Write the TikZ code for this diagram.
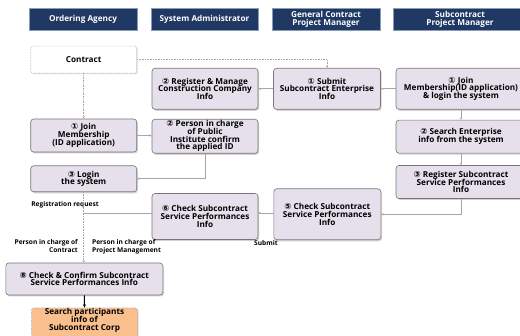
\documentclass[tikz,border=0pt]{standalone}
\usepackage{fontspec}
\setmainfont{Open Sans}
\newfontfamily\circfont{DejaVu Sans}
\usetikzlibrary{arrows.meta,shadows,calc}
\definecolor{boxfill}{HTML}{E6E0EC}
\definecolor{boxline}{HTML}{767676}
\definecolor{hdrfill}{HTML}{203864}
\definecolor{hdrline}{HTML}{8A9BB5}
\definecolor{conn}{HTML}{A6A6A6}
\definecolor{orangefill}{HTML}{F9C08E}
\newcommand{\cn}[1]{{\circfont\fontsize{8.5}{7.7}\selectfont #1}}
\newcommand{\tightlines}{\lineskiplimit=-20pt\lineskip=0pt}
\tikzset{
  hdr/.style={draw=hdrline, line width=0.8pt, fill=hdrfill, text=white, align=center,
    font={\fontsize{8.2}{8.6}\selectfont\bfseries\tightlines}, inner sep=1pt},
  procbox/.style={draw=boxline, line width=0.6pt, fill=boxfill, rounded corners=3pt, align=center,
    font={\fontsize{8.2}{7.7}\selectfont\bfseries\tightlines}, inner sep=1pt,
    drop shadow={opacity=0.35, shadow xshift=1.2pt, shadow yshift=-1.5pt}},
  dashbox/.style={draw=conn, densely dotted, line width=0.6pt, rounded corners=2pt, align=center,
    font={\fontsize{8.2}{7.7}\selectfont\bfseries\tightlines}, inner sep=1pt,
    drop shadow={opacity=0.25, shadow xshift=1pt, shadow yshift=-1pt}},
  boxtext/.style={align=center, font={\fontsize{8.2}{7.7}\selectfont\bfseries\tightlines}, inner sep=0pt},
  lbl/.style={font={\fontsize{6.6}{8}\selectfont\bfseries\tightlines}, inner sep=0pt},
  conarrow/.style={draw=conn, line width=0.6pt, -{Stealth[length=2.5pt,width=2.2pt]}},
  conline/.style={draw=conn, line width=0.6pt},
  dotarrow/.style={draw=conn, line width=0.6pt, densely dotted, -{Stealth[length=2.5pt,width=2.2pt]}},
  blackarrow/.style={draw=black, line width=1pt, -{Stealth[length=3.5pt,width=3pt]}}
}
\begin{document}
\begin{tikzpicture}[x=1pt,y=-1pt]
\useasboundingbox (0,0) rectangle (520,336);
\clip (0,0) rectangle (520,336);
\fill[white] (0,0) rectangle (520,336);
% headers
\node[hdr, minimum width=108pt, minimum height=22pt] (h1) at (83,19.5) {Ordering Agency};
\node[hdr, minimum width=107pt, minimum height=22pt] (h2) at (204.5,19.5) {System Administrator};
\node[hdr, minimum width=108pt, minimum height=22pt] (h3) at (326,19.5) {General Contract\\Project Manager};
\node[hdr, minimum width=134pt, minimum height=22pt] (h4) at (460,19.5) {Subcontract\\Project Manager};
% boxes
\node[dashbox, fill=white, minimum width=106pt, minimum height=27pt] (contract) at (83.7,59.7) {Contract};
\node[procbox, minimum width=106pt, minimum height=41pt] (regmanage) at (205,88.8) {\cn{②} Register \& Manage\\Construction Company\\Info};
\node[procbox, minimum width=107pt, minimum height=41pt] (submit) at (327,88.8) {\cn{①} Submit\\Subcontract Enterprise\\Info};
\node[procbox, minimum width=130pt, minimum height=41pt] (joinR) at (461,88.8) {\cn{①} Join\\Membership(ID application)\\\& login the system};
\node[procbox, minimum width=106pt, minimum height=33pt] (joinL) at (83.7,135.5) {\cn{①} Join\\Membership\\(ID application)};
\node[procbox, minimum width=106pt, minimum height=34pt] (person) at (205,136.3) {\cn{②} Person in charge\\of Public\\Institute confirm\\the applied ID};
\node[procbox, minimum width=130pt, minimum height=33pt] (search) at (461,136.7) {\cn{②} Search Enterprise\\info from the system};
\node[procbox, minimum width=106pt, minimum height=26pt] (login) at (83.7,178.8) {\cn{③} Login\\the system};
\node[procbox, minimum width=130pt, minimum height=33pt] (register) at (461,182) {\cn{③} Register Subcontract\\Service Performances\\Info};
\node[procbox, minimum width=106pt, minimum height=46pt] (check6) at (205,216.5) {\cn{⑥} Check Subcontract\\Service Performances\\Info};
\node[procbox, minimum width=107pt, minimum height=51pt] (check5) at (327.3,214.3) {\cn{⑤} Check Subcontract\\Service Performances\\Info};
\node[procbox, minimum width=157pt, minimum height=32pt] (check8) at (84.3,279) {\cn{⑧} Check \& Confirm Subcontract\\Service Performances Info};
\node[dashbox, fill=orangefill, minimum width=106pt, minimum height=37pt] (searchP) at (84.5,326.5) {};
\node[boxtext] (searchPtext) at (84.5,320.5) {Search participants\\info of\\Subcontract Corp};
% labels
\node[lbl] (lreg) at (65,204.5) {Registration request};
\node[lbl, align=right, anchor=east] (lcon) at (78,246.5) {Person in charge of\\Contract};
\node[lbl, align=left, anchor=west] (lpm) at (92,246.5) {Person in charge of\\Project Management};
\node[lbl] (lsub) at (266,243.5) {Submit};
% connectors
\draw[dotarrow] (contract.east) -| (submit.north);
\draw[dotarrow] (contract.south) -- (joinL.north);
\draw[conarrow] (joinL.east) -- (joinL.east -| person.west);
\draw[conarrow] (person.south) |- (login.east);
\draw[conarrow] (joinR.west) -- (submit.east);
\draw[conarrow] (submit.west) -- (regmanage.east);
\draw[conarrow] (joinR.south) -- (search.north);
\draw[conarrow] (search.south) -- (register.north);
\draw[conarrow] (register.south) |- (check5.east);
\draw[conarrow] (check5.west |- 0,213) -- (check6.east |- 0,213);
\draw[dotarrow] (login.south) -- (login.south |- check8.north);
\draw[conline] (check6.west |- 0,213) -- (login.south |- 0,213);
\draw[blackarrow] (check8.south) -- (searchP.north);
\end{tikzpicture}
\end{document}
